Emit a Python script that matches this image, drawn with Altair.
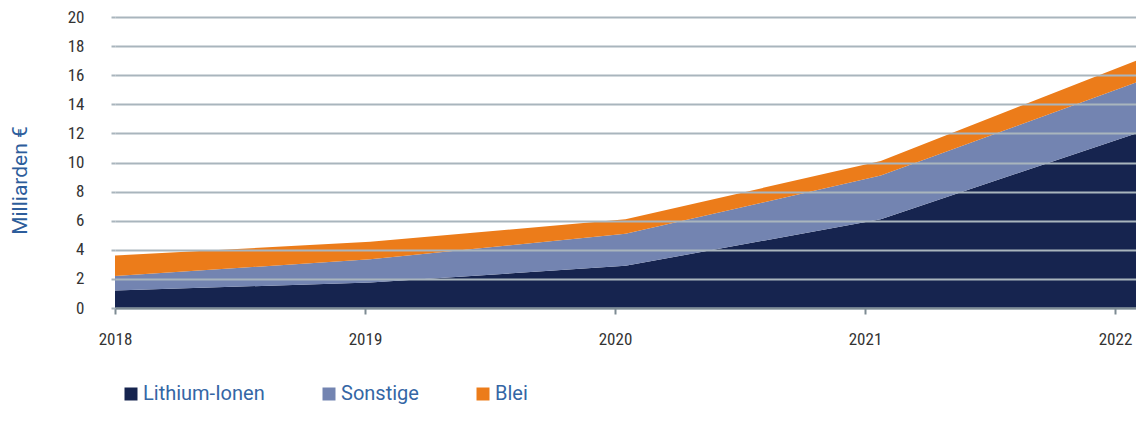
import altair as alt
import pandas as pd

years = [2018, 2019, 2020, 2021, 2022]
lithium = [1.2, 1.75, 2.9, 6.1, 12.0]
sonstige = [1.0, 1.6, 2.2, 3.0, 3.5]
blei = [1.4, 1.2, 1.0, 1.0, 1.5]
series = ["Lithium-Ionen", "Sonstige", "Blei"]
colors = ["#16244f", "#7384b1", "#ec7c1a"]
y_ticks = list(range(0, 21, 2))

rows = []
for i, (name, vals) in enumerate(zip(series, [lithium, sonstige, blei])):
    for yr, v in zip(years, vals):
        rows.append({"Jahr": yr, "Wert": v, "Reihe": name, "idx": i})
df = pd.DataFrame(rows)

FONT = "Roboto Condensed, Liberation Sans Narrow, DejaVu Sans Condensed, Roboto, sans-serif"
LFONT = "Roboto, Noto Sans, sans-serif"
GRID = "#a9b5bd"

areas = alt.Chart(df).mark_area(opacity=1).encode(
    x=alt.X("Jahr:Q", scale=alt.Scale(domain=[2018, 2022], nice=False, zero=False), axis=None),
    y=alt.Y(
        "Wert:Q",
        stack="zero",
        scale=alt.Scale(domain=[0, 20], nice=False),
        axis=alt.Axis(
            values=y_ticks, title="Milliarden €", grid=True, gridColor=GRID, gridWidth=2,
            domain=False, tickColor=GRID, tickSize=4, tickWidth=2, labelPadding=27,
            labelFontSize=17, labelColor="#333333", labelFont=FONT,
            titleFont=LFONT, titleFontSize=21, titleColor="#2d5d9b", titleFontWeight="normal",
            titleAngle=270, titleX=-95, titleY=163, titleAlign="center", titleBaseline="middle",
            zindex=1,
        ),
    ),
    color=alt.Color(
        "Reihe:N",
        scale=alt.Scale(domain=series, range=colors),
        legend=alt.Legend(
            title=None, orient="none", legendX=6, legendY=367, direction="horizontal",
            columns=3, columnPadding=54, symbolType="square", symbolSize=169,
            symbolStrokeWidth=0, symbolOpacity=1, labelFontSize=20, labelColor="#3466a5",
            labelFont=LFONT, labelOffset=2, padding=0,
        ),
    ),
    order=alt.Order("idx:Q"),
)

axis_layer = alt.Chart(pd.DataFrame({"Jahr": years})).mark_point(opacity=0).encode(
    x=alt.X(
        "Jahr:Q",
        scale=alt.Scale(domain=[2018, 2022.084], nice=False, zero=False),
        axis=alt.Axis(
            values=years, format="d", title=None, grid=False, domainColor="#7d8b93",
            domainWidth=2, tickColor="#7d8b93", tickWidth=2, tickSize=6, labelFontSize=17,
            labelColor="#333333", labelPadding=17, labelFont=FONT,
            labelFlush=False, zindex=1,
        ),
    )
)

chart = alt.layer(areas, axis_layer).resolve_scale(x="independent").properties(
    width=1021, height=291,
    padding={"left": 107, "top": 9, "right": 0, "bottom": 100},
    autosize=alt.AutoSizeParams(type="none"),
).configure_view(stroke=None)

chart.save("out.html", embed_options={"renderer": "svg", "actions": False})
